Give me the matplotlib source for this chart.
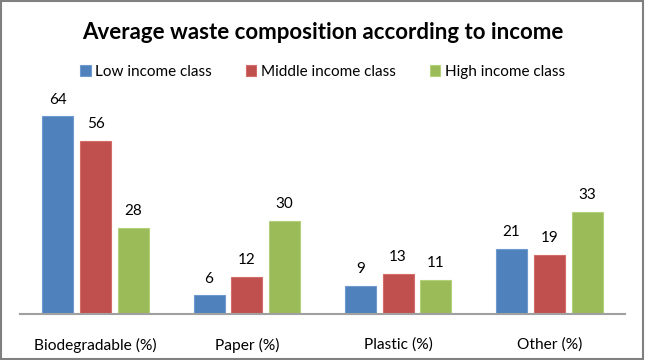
import matplotlib.pyplot as plt
import numpy as np
from matplotlib.patches import Rectangle

categories = ["Biodegradable (%)", "Paper (%)", "Plastic (%)", "Other (%)"]
series_names = ["Low income class", "Middle income class", "High income class"]
low_income = [64, 6, 9, 21]
middle_income = [56, 12, 13, 19]
high_income = [28, 30, 11, 33]

colors = ["#4F81BD", "#C0504D", "#9BBB59"]
edges = ["#6F9AD0", "#D46C69", "#B3D07A"]

plt.rcParams['font.family'] = ['Lato', 'DejaVu Sans']

fig = plt.figure(figsize=(6.45, 3.6), dpi=100)
ax = fig.add_axes([0.031, 0.128, 0.938, 0.6])

x = np.arange(len(categories))
width = 0.205
offsets = [-0.25, 0, 0.25]
handles = []
for vals, off, c, ec, name in zip([low_income, middle_income, high_income], offsets, colors, edges, series_names):
    bars = ax.bar(x + off, vals, width, color=c, edgecolor=ec, linewidth=0.8, label=name)
    handles.append(bars)
    for b, v in zip(bars, vals):
        ax.text(b.get_x() + b.get_width() / 2, v + 3.2, str(v), ha="center", va="bottom",
                fontsize=11, color="#000000")

ax.set_xlim(-0.5, len(categories) - 0.5)
ax.set_ylim(0, 70)
ax.set_yticks([])
ax.set_xticks(x)
ax.set_xticklabels(categories, fontsize=11.2)
ax.tick_params(axis="x", length=0, pad=17)
for s in ["top", "left", "right"]:
    ax.spines[s].set_visible(False)
ax.spines["bottom"].set_color("#A0A0A0")
ax.spines["bottom"].set_linewidth(1.5)

fig.text(0.5, 0.91, "Average waste composition according to income", ha="center", va="center",
         fontsize=16, fontweight="bold")
fig.legend(handles=handles, labels=series_names, loc="center", bbox_to_anchor=(0.5, 0.8),
           ncol=3, frameon=False, fontsize=11, handlelength=0.7, handleheight=0.7,
           handletextpad=0.3, columnspacing=2.2)

fig.patches.append(Rectangle((0.002, 0.003), 0.995, 0.993, transform=fig.transFigure,
                             fill=False, edgecolor="#808080", linewidth=1.5))

fig.savefig("out.png", dpi=100)
